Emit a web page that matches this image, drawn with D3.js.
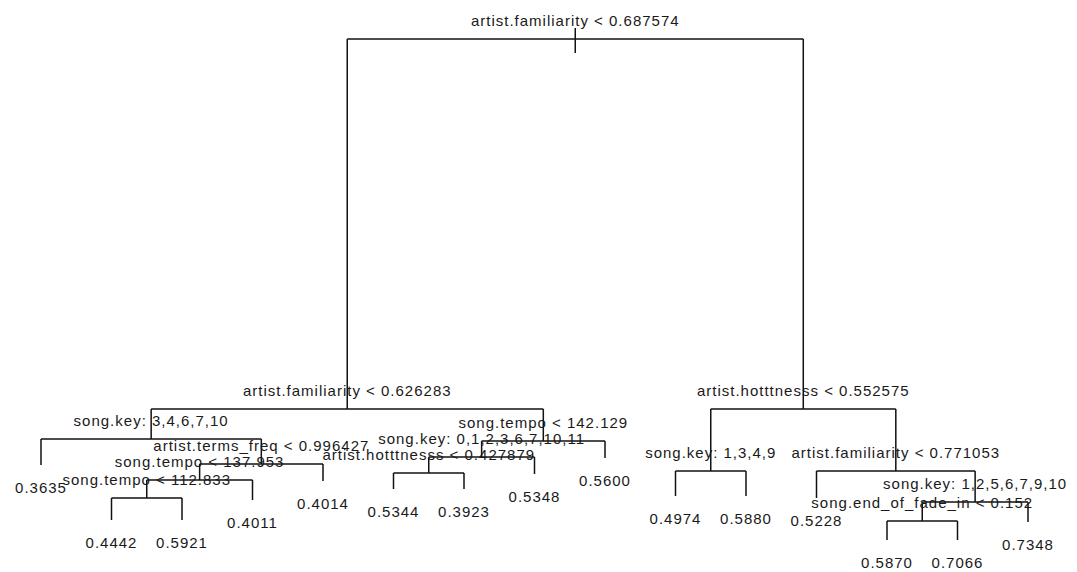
<!DOCTYPE html>
<html>
<head>
<meta charset="utf-8">
<script src="https://cdn.jsdelivr.net/npm/d3@7"></script>
<style>
  body { margin: 0; background: #fff; }
  svg text { font-family: "Liberation Sans", Arial, sans-serif; font-size: 15px; letter-spacing: 1px; fill: #1a1a1a; }
</style>
</head>
<body>
<div id="chart"></div>
<script>
// R tree numbering: children of n are 2n (left) and 2n+1 (right)
const nodeIds = [1, 2, 4, 8, 9, 18, 36, 72, 73, 37, 19, 5, 10, 20, 40, 41, 21, 11,
  3, 6, 12, 13, 7, 14, 15, 30, 60, 61, 31]

const nodeSplits = [
  "artist.familiarity < 0.687574", "artist.familiarity < 0.626283", "song.key: 3,4,6,7,10", null,
  "artist.terms_freq < 0.996427", "song.tempo < 137.953", "song.tempo < 112.833", null, null, null, null,
  "song.tempo < 142.129", "song.key: 0,1,2,3,6,7,10,11", "artist.hotttnesss < 0.427879", null, null, null, null,
  "artist.hotttnesss < 0.552575", "song.key: 1,3,4,9", null, null, "artist.familiarity < 0.771053", null,
  "song.key: 1,2,5,6,7,9,10", "song.end_of_fade_in < 0.152", null, null, null]

const nodeValues = [null, null, null, 0.3635, null, null, null, 0.4442, 0.5921, 0.4011, 0.4014,
  null, null, null, 0.5344, 0.3923, 0.5348, 0.5600,
  null, null, 0.4974, 0.5880, null, 0.5228, null, null, 0.5870, 0.7066, 0.7348]

const nodeDev = [52.1, 15.1, 12.1, 9.5, 9.6, 8.0, 6.2, 4.0, 4.0, 6.0, 7.9, 11.9, 10.3, 8.7, 7.1, 7.1, 8.6, 10.2,
  15.1, 8.9, 6.4, 6.4, 8.9, 6.2, 5.8, 3.9, 2.0, 2.0, 3.8]

const width = 1077, height = 572

const rows = nodeIds.map((id, i) => ({id: id, split: nodeSplits[i], value: nodeValues[i], dev: nodeDev[i]}))

const root = d3.stratify()
  .id(d => String(d.id))
  .parentId(d => d.id === 1 ? null : String(Math.floor(d.id / 2)))(rows)
root.sort((a, b) => a.data.id - b.data.id)

const leaves = root.leaves()
const x = d3.scaleLinear().domain([1, leaves.length]).range([41, 1028])
const y = d3.scaleLinear().domain(d3.extent(nodeDev)).range([540, 39])

leaves.forEach((d, i) => d.x = x(i + 1))
root.eachAfter(d => {
  if (d.children) d.x = (d.children[0].x + d.children[1].x) / 2
  d.y = y(d.data.dev)
})

const svg = d3.select("#chart").append("svg")
  .attr("width", width).attr("height", height)

const line_g = svg.append("g").attr("class", "lines")
  .style("stroke", "#111").style("stroke-width", 1.5).style("fill", "none")

// root stem
line_g.append("line")
  .attr("x1", root.x).attr("x2", root.x)
  .attr("y1", root.y - 11).attr("y2", root.y + 14)

root.descendants().forEach(d => {
  if (d.parent) {
    line_g.append("line")
      .attr("x1", d.x).attr("x2", d.x)
      .attr("y1", d.parent.y).attr("y2", d.y)
  }
  if (d.children) {
    line_g.append("line")
      .attr("x1", d.children[0].x).attr("x2", d.children[1].x)
      .attr("y1", d.y).attr("y2", d.y)
  }
})

const fmt = d3.format(".4f")
const text_g = svg.append("g").attr("class", "labels").attr("text-anchor", "middle")

root.descendants().forEach(d => {
  if (d.children) {
    text_g.append("text")
      .attr("x", d.x).attr("y", d.y - 13.5)
      .text(d.data.split)
  } else {
    text_g.append("text")
      .attr("x", d.x).attr("y", d.y + 28)
      .text(fmt(d.data.value))
  }
})
</script>
</body>
</html>
